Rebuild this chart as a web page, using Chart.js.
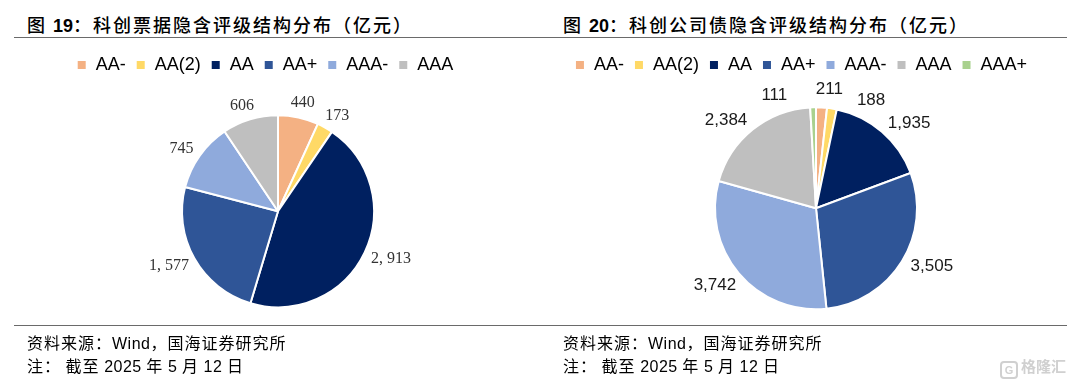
<!DOCTYPE html>
<html>
<head>
<meta charset="utf-8">
<script src="https://cdn.jsdelivr.net/npm/chart.js@4.4.1/dist/chart.umd.min.js"></script>
<style>
  body { margin: 0; width: 1080px; height: 386px; background: #fff; position: relative; overflow: hidden; font-family: "Noto Sans CJK SC", sans-serif; }
  .title { position: absolute; top: 11px; font-size: 18px; letter-spacing: 2px; color: #000; font-weight: 500; white-space: nowrap; }
  .title b { font-family: "Liberation Sans", Arial, sans-serif; font-weight: bold; letter-spacing: 0; }
  .rule { position: absolute; left: 14px; width: 1053px; border-top: 1.5px solid #6a6a6a; }
  .note { position: absolute; font-size: 16px; letter-spacing: 1px; color: #000; line-height: 22px; white-space: nowrap; }
  .note span { font-family: "Liberation Sans", Arial, sans-serif; letter-spacing: 0.5px; }
  .wm { position: absolute; left: 1000px; top: 355px; color: #d0d0d0; font-size: 15px; font-weight: bold; white-space: nowrap; }
  .wm i { display: inline-block; width: 14px; height: 14px; border: 2px solid #d0d0d0; border-radius: 4px; font-style: normal; font-size: 11px; line-height: 14px; text-align: center; margin-right: 3px; vertical-align: -2px; font-family: "Liberation Sans", Arial; }
  canvas { position: absolute; }
</style>
</head>
<body>
<div class="title" style="left:27px">图 <b>19</b>：科创票据隐含评级结构分布（亿元）</div>
<div class="title" style="left:563px">图 <b>20</b>：科创公司债隐含评级结构分布（亿元）</div>
<div class="rule" style="top:37px"></div>

<canvas id="chart19" width="540" height="300" style="left:0;top:40px"></canvas>
<canvas id="chart20" width="540" height="300" style="left:540px;top:40px"></canvas>

<div class="rule" style="top:325px"></div>
<div class="note" style="left:27px;top:331px">资料来源：<span>Wind</span>，国海证券研究所</div>
<div class="note" style="left:27px;top:354px">注： 截至 <span>2025</span> 年 <span>5</span> 月 <span>12</span> 日</div>
<div class="note" style="left:563px;top:331px">资料来源：<span>Wind</span>，国海证券研究所</div>
<div class="note" style="left:563px;top:354px">注： 截至 <span>2025</span> 年 <span>5</span> 月 <span>12</span> 日</div>
<div class="wm"><i>G</i>格隆汇</div>

<script>
// 图19 科创票据
const ratings19 = ['AA-', 'AA(2)', 'AA', 'AA+', 'AAA-', 'AAA']
const values19 = [440, 173, 2913, 1577, 745, 606]

// 图20 科创公司债
const ratings20 = ['AA-', 'AA(2)', 'AA', 'AA+', 'AAA-', 'AAA', 'AAA+']
const values20 = [211, 188, 1935, 3505, 3742, 2384, 111]

const ratingColors = {
  'AA-': '#F4B183',
  'AA(2)': '#FFD966',
  'AA': '#002060',
  'AA+': '#2F5597',
  'AAA-': '#8FAADC',
  'AAA': '#BFBFBF',
  'AAA+': '#A9D18E'
}

// 标签在扇区外侧，shift 为角度微调（度）
function outsideLabels(style) {
  return {
    id: 'outsideLabels',
    afterDatasetsDraw(chart) {
      const ctx = chart.ctx
      const meta = chart.getDatasetMeta(0)
      const values = chart.data.datasets[0].data
      ctx.save()
      ctx.font = style.font
      ctx.fillStyle = style.color
      ctx.textAlign = 'center'
      ctx.textBaseline = 'middle'
      meta.data.forEach((arc, i) => {
        const p = arc.getProps(['x', 'y', 'startAngle', 'endAngle', 'outerRadius'])
        const a = (p.startAngle + p.endAngle) / 2 + (style.shift[i] || 0) * Math.PI / 180
        const text = values[i].toLocaleString('en-US').replace(',', style.sep)
        const w = ctx.measureText(text).width
        const c = Math.cos(a), s = Math.sin(a)
        const r = p.outerRadius + style.gap
        ctx.fillText(text, p.x + c * r + c * w / 2, p.y + s * r + s * style.height / 2)
      })
      ctx.restore()
    }
  }
}

function legendOpts() {
  return {
    position: 'top',
    labels: {
      boxWidth: 10,
      boxHeight: 10,
      padding: 10,
      color: '#000',
      font: { family: '"Liberation Sans", Arial, sans-serif', size: 18 }
    }
  }
}

new Chart(document.getElementById('chart19'), {
  type: 'pie',
  data: {
    labels: ratings19,
    datasets: [{
      data: values19,
      backgroundColor: ratings19.map(r => ratingColors[r]),
      borderColor: '#fff',
      borderWidth: 2,
      radius: 96
    }]
  },
  options: {
    responsive: false,
    animation: false,
    layout: { padding: { top: 6, bottom: 1.5, left: 0, right: 10 } },
    plugins: {
      legend: legendOpts(),
      // 空标题占位，让饼图相对图例右移
      title: { display: true, position: 'left', text: '', padding: 12, font: { size: 2, lineHeight: 1 } },
      tooltip: { enabled: false }
    }
  },
  plugins: [outsideLabels({
    font: '16px "Liberation Serif", "Times New Roman", serif',
    color: '#333',
    sep: ', ',
    gap: 9,
    height: 12,
    shift: [0, 1, 0, 0, -1, -1]
  })]
})

new Chart(document.getElementById('chart20'), {
  type: 'pie',
  data: {
    labels: ratings20,
    datasets: [{
      data: values20,
      backgroundColor: ratings20.map(r => ratingColors[r]),
      borderColor: '#fff',
      borderWidth: 2,
      radius: 101
    }]
  },
  options: {
    responsive: false,
    animation: false,
    layout: { padding: { top: 6, bottom: 7.5, left: 0, right: 18 } },
    plugins: {
      legend: legendOpts(),
      title: { display: true, position: 'left', text: '', padding: 14, font: { size: 2, lineHeight: 1 } },
      tooltip: { enabled: false }
    }
  },
  plugins: [outsideLabels({
    font: '17px "Liberation Sans", Arial, sans-serif',
    color: '#1a1a1a',
    sep: ',',
    gap: 10,
    height: 18,
    shift: [3, 17, 4, -3, 0, -4, -18]
  })]
})
</script>
</body>
</html>
